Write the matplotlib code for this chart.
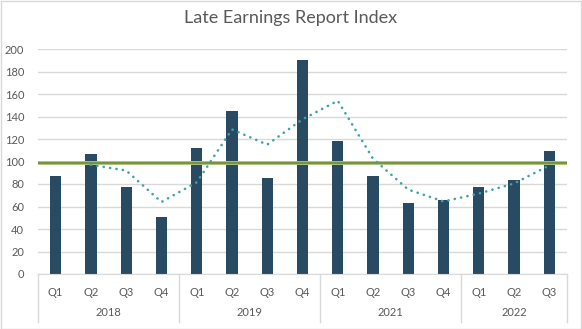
import matplotlib
matplotlib.use('Agg')
import matplotlib.pyplot as plt
from matplotlib.patches import Rectangle

plt.rcParams['font.family'] = ['Lato', 'DejaVu Sans']

# data
quarters = ['Q1', 'Q2', 'Q3', 'Q4',
            'Q1', 'Q2', 'Q3', 'Q4',
            'Q1', 'Q2', 'Q3', 'Q4',
            'Q1', 'Q2', 'Q3']
years = ['2018', '2019', '2021', '2022']
year_counts = [4, 4, 4, 3]
values = [87, 107, 77, 51, 112, 145, 85, 190, 118, 87, 63, 66, 77, 84, 109]
# 2-period moving average trendline (starts at second point)
trend = [None, 97, 92, 64, 81.5, 128.5, 115, 137.5, 154, 102.5, 75, 64.5, 71.5, 80.5, 96.5]
target = 99

txt = '#595959'
grid = '#D9D9D9'

W, H = 582, 329
fig = plt.figure(figsize=(W / 100, H / 100), dpi=100)
ax = fig.add_axes([38 / W, (H - 274) / H, (567 - 38) / W, (274 - 49) / H])

x = list(range(len(values)))
ax.bar(x, values, width=0.32, color='#284B63', zorder=2)

tx = [i for i, v in zip(x, trend) if v is not None]
ty = [v for v in trend if v is not None]
ax.plot(tx, ty, color='#41A3A3', lw=1.9, linestyle=(0, (0.05, 2.4)),
        dash_capstyle='round', zorder=4)

ax.axhline(target, color='#B4C98A', lw=2.8, zorder=3)
ax.axhline(target, color='#77933C', lw=1.6, zorder=3)

ax.set_xlim(-0.5, len(values) - 0.5)
ax.set_ylim(0, 200)
ax.set_yticks(range(0, 201, 20))
ax.yaxis.grid(True, color=grid, lw=1)
ax.set_axisbelow(True)
for s in ['top', 'right', 'left']:
    ax.spines[s].set_visible(False)
ax.spines['bottom'].set_color(grid)
ax.tick_params(axis='y', length=0, pad=10, labelsize=8, labelcolor=txt)
ax.set_xticks(x)
ax.set_xticklabels(quarters)
ax.tick_params(axis='x', length=0, pad=9, labelsize=8, labelcolor=txt)

# year group labels and separators
tr = ax.get_xaxis_transform()
start = -0.5
ax.plot([start, start], [0, -0.213], transform=tr, color=grid, lw=1, clip_on=False)
for yr, n in zip(years, year_counts):
    end = start + n
    ax.plot([end, end], [0, -0.213], transform=tr, color=grid, lw=1, clip_on=False)
    ax.text((start + end) / 2, -0.173, yr, transform=tr, ha='center', va='center',
            fontsize=8, color=txt)
    start = end

fig.text(291 / W, 1 - 18 / H, 'Late Earnings Report Index', ha='center', va='center',
         fontsize=13, color=txt)

fig.patches.append(Rectangle((0.5 / W, 0.5 / H), 1 - 1.5 / W, 1 - 1.5 / H,
                             transform=fig.transFigure, fill=False,
                             edgecolor=grid, lw=1))

fig.savefig('out.png', dpi=100)
